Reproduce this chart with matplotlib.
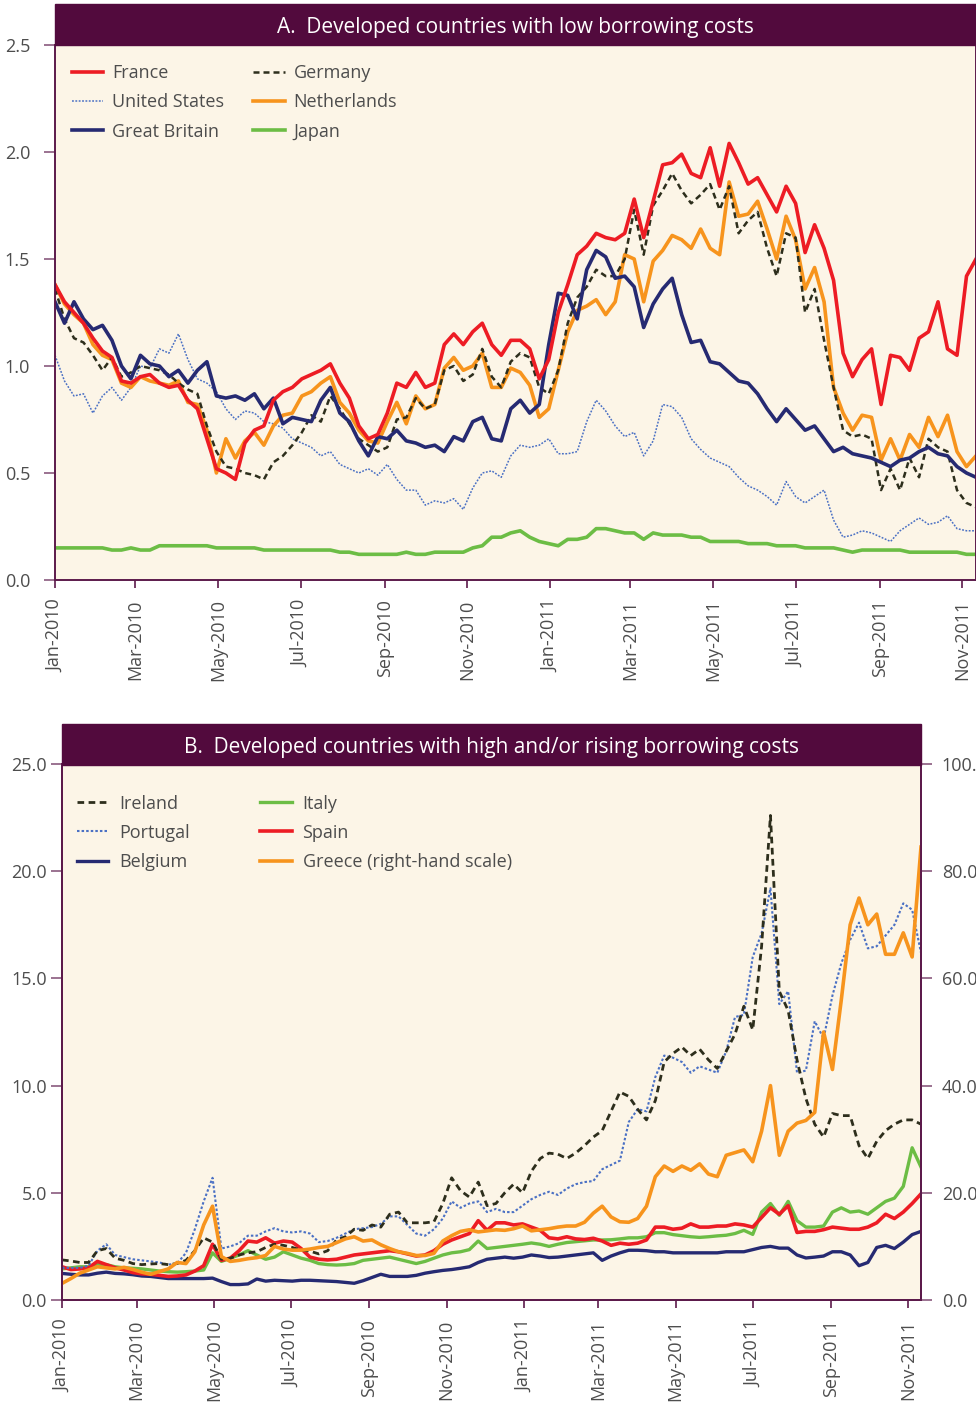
import matplotlib
matplotlib.use('Agg')
import matplotlib.pyplot as plt
import matplotlib.dates as mdates
from matplotlib.patches import Rectangle
from matplotlib.ticker import FixedLocator, FormatStrFormatter
import pandas as pd

plt.rcParams['font.family'] = ['Open Sans', 'DejaVu Sans']

#%% data: weekly readings, Jan-2010 to Nov-2011
dates = pd.date_range('2010-01-01', periods=98, freq='7D')

# Panel A
france = [1.38, 1.30, 1.25, 1.20, 1.13, 1.07, 1.04, 0.93, 0.92, 0.95,
          0.96, 0.92, 0.90, 0.91, 0.84, 0.80, 0.66, 0.52, 0.50, 0.47,
          0.64, 0.70, 0.72, 0.84, 0.88, 0.90, 0.94, 0.96, 0.98, 1.01,
          0.92, 0.85, 0.72, 0.66, 0.68, 0.78, 0.92, 0.90, 0.97, 0.90,
          0.92, 1.10, 1.15, 1.10, 1.16, 1.20, 1.10, 1.05, 1.12, 1.12,
          1.08, 0.94, 1.03, 1.25, 1.38, 1.52, 1.56, 1.62, 1.60, 1.59,
          1.62, 1.78, 1.60, 1.77, 1.94, 1.95, 1.99, 1.90, 1.88, 2.02,
          1.84, 2.04, 1.95, 1.85, 1.88, 1.80, 1.72, 1.84, 1.76, 1.53,
          1.66, 1.55, 1.40, 1.06, 0.95, 1.03, 1.08, 0.82, 1.05, 1.04,
          0.98, 1.13, 1.16, 1.30, 1.08, 1.05, 1.42, 1.50]
germany = [1.36, 1.22, 1.13, 1.11, 1.05, 0.98, 1.04, 0.95, 0.97, 1.00,
           0.99, 0.98, 0.96, 0.92, 0.89, 0.87, 0.72, 0.60, 0.53, 0.52,
           0.50, 0.49, 0.47, 0.55, 0.58, 0.63, 0.69, 0.77, 0.74, 0.86,
           0.80, 0.73, 0.66, 0.63, 0.60, 0.62, 0.75, 0.76, 0.85, 0.80,
           0.82, 0.98, 1.00, 0.93, 0.96, 1.08, 0.95, 0.90, 1.02, 1.06,
           1.04, 0.90, 0.87, 0.98, 1.20, 1.32, 1.37, 1.45, 1.42, 1.42,
           1.50, 1.73, 1.52, 1.75, 1.82, 1.90, 1.82, 1.76, 1.80, 1.85,
           1.73, 1.84, 1.62, 1.68, 1.72, 1.55, 1.42, 1.62, 1.60, 1.25,
           1.36, 1.12, 0.90, 0.70, 0.67, 0.68, 0.66, 0.42, 0.52, 0.42,
           0.57, 0.48, 0.66, 0.62, 0.60, 0.42, 0.36, 0.34]
united_states = [1.05, 0.93, 0.86, 0.87, 0.78, 0.86, 0.90, 0.84, 0.90, 1.00,
                 0.99, 1.08, 1.06, 1.15, 1.03, 0.94, 0.92, 0.88, 0.80, 0.75,
                 0.79, 0.78, 0.74, 0.73, 0.71, 0.66, 0.64, 0.62, 0.58, 0.60,
                 0.54, 0.52, 0.50, 0.52, 0.49, 0.54, 0.47, 0.42, 0.42, 0.35,
                 0.37, 0.36, 0.38, 0.33, 0.43, 0.50, 0.51, 0.48, 0.58, 0.63,
                 0.62, 0.63, 0.66, 0.59, 0.59, 0.60, 0.74, 0.84, 0.79, 0.72,
                 0.67, 0.69, 0.58, 0.65, 0.82, 0.81, 0.76, 0.66, 0.61, 0.57,
                 0.55, 0.53, 0.48, 0.44, 0.42, 0.39, 0.35, 0.46, 0.39, 0.36,
                 0.39, 0.42, 0.28, 0.20, 0.21, 0.23, 0.22, 0.20, 0.18, 0.23,
                 0.26, 0.29, 0.26, 0.27, 0.30, 0.24, 0.23, 0.23]
netherlands = [1.38, 1.29, 1.24, 1.20, 1.10, 1.05, 1.03, 0.92, 0.90, 0.95,
               0.93, 0.92, 0.91, 0.93, 0.83, 0.82, 0.70, 0.50, 0.66, 0.57,
               0.65, 0.69, 0.63, 0.72, 0.77, 0.78, 0.86, 0.88, 0.92, 0.95,
               0.83, 0.78, 0.70, 0.65, 0.64, 0.74, 0.83, 0.73, 0.86, 0.80,
               0.82, 0.99, 1.04, 0.98, 1.00, 1.06, 0.90, 0.90, 0.99, 0.97,
               0.91, 0.76, 0.80, 0.98, 1.16, 1.26, 1.28, 1.31, 1.24, 1.30,
               1.52, 1.50, 1.30, 1.49, 1.54, 1.61, 1.59, 1.55, 1.64, 1.55,
               1.52, 1.86, 1.70, 1.71, 1.77, 1.64, 1.50, 1.70, 1.59, 1.36,
               1.46, 1.30, 0.90, 0.78, 0.70, 0.77, 0.76, 0.56, 0.66, 0.56,
               0.68, 0.62, 0.76, 0.67, 0.77, 0.60, 0.53, 0.58]
great_britain = [1.30, 1.20, 1.30, 1.22, 1.17, 1.19, 1.12, 1.00, 0.94, 1.05,
                 1.01, 1.00, 0.95, 0.98, 0.92, 0.98, 1.02, 0.86, 0.85, 0.86,
                 0.84, 0.87, 0.80, 0.85, 0.73, 0.76, 0.75, 0.74, 0.84, 0.90,
                 0.78, 0.74, 0.65, 0.58, 0.67, 0.66, 0.70, 0.65, 0.64, 0.62,
                 0.63, 0.60, 0.67, 0.65, 0.74, 0.76, 0.66, 0.65, 0.80, 0.84,
                 0.78, 0.82, 1.10, 1.34, 1.33, 1.22, 1.45, 1.54, 1.51, 1.41,
                 1.42, 1.37, 1.18, 1.29, 1.36, 1.41, 1.24, 1.11, 1.12, 1.02,
                 1.01, 0.97, 0.93, 0.92, 0.87, 0.80, 0.74, 0.80, 0.75, 0.70,
                 0.72, 0.66, 0.60, 0.62, 0.59, 0.58, 0.57, 0.55, 0.53, 0.56,
                 0.57, 0.60, 0.62, 0.59, 0.58, 0.53, 0.50, 0.48]
japan = [0.15, 0.15, 0.15, 0.15, 0.15, 0.15, 0.14, 0.14, 0.15, 0.14,
         0.14, 0.16, 0.16, 0.16, 0.16, 0.16, 0.16, 0.15, 0.15, 0.15,
         0.15, 0.15, 0.14, 0.14, 0.14, 0.14, 0.14, 0.14, 0.14, 0.14,
         0.13, 0.13, 0.12, 0.12, 0.12, 0.12, 0.12, 0.13, 0.12, 0.12,
         0.13, 0.13, 0.13, 0.13, 0.15, 0.16, 0.20, 0.20, 0.22, 0.23,
         0.20, 0.18, 0.17, 0.16, 0.19, 0.19, 0.20, 0.24, 0.24, 0.23,
         0.22, 0.22, 0.19, 0.22, 0.21, 0.21, 0.21, 0.20, 0.20, 0.18,
         0.18, 0.18, 0.18, 0.17, 0.17, 0.17, 0.16, 0.16, 0.16, 0.15,
         0.15, 0.15, 0.15, 0.14, 0.13, 0.14, 0.14, 0.14, 0.14, 0.14,
         0.13, 0.13, 0.13, 0.13, 0.13, 0.13, 0.12, 0.12]

# Panel B
ireland = [1.87, 1.82, 1.75, 1.75, 2.30, 2.40, 1.95, 1.85, 1.70, 1.65,
           1.68, 1.70, 1.65, 1.70, 1.85, 2.30, 2.90, 2.70, 1.90, 1.95,
           2.10, 2.20, 2.25, 2.45, 2.60, 2.55, 2.45, 2.33, 2.28, 2.15,
           2.30, 2.80, 2.95, 3.30, 3.25, 3.50, 3.40, 4.00, 4.10, 3.60,
           3.60, 3.60, 3.65, 4.50, 5.70, 5.10, 4.80, 5.50, 4.40, 4.50,
           5.00, 5.40, 5.00, 6.00, 6.60, 6.85, 6.80, 6.60, 6.85, 7.20,
           7.60, 7.90, 8.80, 9.70, 9.50, 8.90, 8.40, 9.30, 11.10, 11.50,
           11.80, 11.40, 11.70, 11.20, 10.80, 11.60, 12.40, 13.70, 12.60, 16.50,
           22.60, 14.40, 13.50, 11.20, 9.40, 8.20, 7.60, 8.70, 8.60, 8.60,
           7.20, 6.60, 7.40, 7.90, 8.20, 8.40, 8.40, 8.20]
portugal = [1.50, 1.50, 1.50, 1.60, 2.30, 2.60, 2.10, 2.00, 1.90, 1.85,
            1.80, 1.75, 1.65, 1.70, 2.20, 3.30, 4.60, 5.70, 2.40, 2.50,
            2.65, 3.00, 3.00, 3.20, 3.35, 3.20, 3.15, 3.20, 3.10, 2.70,
            2.75, 2.90, 3.10, 3.30, 3.35, 3.40, 3.55, 3.90, 3.90, 3.50,
            3.10, 3.00, 3.30, 3.80, 4.60, 4.30, 4.50, 4.60, 4.10, 4.25,
            4.10, 4.10, 4.40, 4.70, 4.90, 5.05, 4.90, 5.20, 5.40, 5.50,
            5.55, 6.10, 6.30, 6.50, 8.30, 8.90, 8.80, 10.40, 11.40, 11.30,
            11.10, 10.60, 10.90, 10.75, 10.60, 11.60, 13.20, 13.30, 16.00, 17.10,
            19.20, 13.80, 14.40, 10.60, 10.70, 13.00, 12.20, 14.20, 15.70, 16.80,
            17.60, 16.40, 16.50, 17.00, 17.50, 18.50, 18.20, 16.20]
belgium = [1.24, 1.20, 1.17, 1.17, 1.25, 1.30, 1.24, 1.22, 1.18, 1.12,
           1.10, 1.05, 1.00, 1.00, 1.00, 1.00, 1.00, 1.02, 0.86, 0.72,
           0.72, 0.75, 0.98, 0.88, 0.92, 0.90, 0.88, 0.92, 0.92, 0.90,
           0.88, 0.86, 0.82, 0.78, 0.90, 1.05, 1.20, 1.10, 1.10, 1.10,
           1.15, 1.25, 1.32, 1.38, 1.42, 1.48, 1.55, 1.75, 1.90, 1.95,
           2.00, 1.95, 2.00, 2.10, 2.05, 1.98, 2.00, 2.05, 2.10, 2.15,
           2.20, 1.85, 2.05, 2.20, 2.32, 2.32, 2.30, 2.25, 2.25, 2.20,
           2.20, 2.20, 2.20, 2.20, 2.20, 2.25, 2.25, 2.25, 2.35, 2.45,
           2.50, 2.42, 2.42, 2.10, 1.96, 2.00, 2.05, 2.25, 2.25, 2.10,
           1.60, 1.75, 2.45, 2.55, 2.40, 2.70, 3.05, 3.20]
italy = [1.45, 1.50, 1.55, 1.55, 1.65, 1.65, 1.55, 1.50, 1.48, 1.45,
         1.40, 1.35, 1.32, 1.30, 1.32, 1.35, 1.40, 2.20, 1.80, 1.95,
         2.10, 2.30, 2.10, 1.90, 2.00, 2.25, 2.10, 1.95, 1.85, 1.70,
         1.65, 1.63, 1.65, 1.70, 1.85, 1.90, 1.95, 2.00, 1.90, 1.80,
         1.70, 1.80, 1.95, 2.10, 2.20, 2.25, 2.35, 2.75, 2.40, 2.45,
         2.50, 2.55, 2.60, 2.66, 2.60, 2.50, 2.60, 2.68, 2.72, 2.76,
         2.80, 2.80, 2.81, 2.85, 2.90, 2.90, 2.95, 3.14, 3.14, 3.05,
         3.00, 2.95, 2.92, 2.95, 2.99, 3.02, 3.10, 3.25, 3.06, 4.10,
         4.50, 3.95, 4.60, 3.70, 3.40, 3.40, 3.45, 4.10, 4.30, 4.10,
         4.15, 4.00, 4.30, 4.60, 4.75, 5.30, 7.10, 6.20]
spain = [1.55, 1.42, 1.45, 1.50, 1.80, 1.65, 1.50, 1.40, 1.28, 1.22,
         1.20, 1.15, 1.10, 1.12, 1.17, 1.35, 1.60, 2.60, 1.85, 1.95,
         2.30, 2.75, 2.70, 2.90, 2.65, 2.75, 2.70, 2.40, 2.00, 1.90,
         1.87, 1.90, 2.00, 2.10, 2.15, 2.20, 2.25, 2.30, 2.25, 2.15,
         2.05, 2.10, 2.30, 2.60, 2.80, 2.95, 3.10, 3.70, 3.25, 3.60,
         3.60, 3.50, 3.55, 3.40, 3.25, 2.90, 2.85, 2.95, 2.85, 2.82,
         2.88, 2.75, 2.55, 2.65, 2.60, 2.65, 2.80, 3.40, 3.40, 3.30,
         3.35, 3.55, 3.40, 3.40, 3.45, 3.45, 3.55, 3.50, 3.40, 3.85,
         4.30, 4.00, 4.40, 3.15, 3.20, 3.20, 3.28, 3.40, 3.35, 3.30,
         3.30, 3.40, 3.60, 4.00, 3.80, 4.10, 4.50, 4.95]
greece = [3.1, 4.0, 5.0, 5.6, 6.2, 6.0, 5.8, 6.1, 5.7, 5.2,
          4.8, 5.3, 5.8, 7.0, 6.8, 9.0, 14.0, 17.5, 8.1, 7.2,
          7.4, 7.7, 7.9, 8.3, 10.0, 9.5, 9.3, 9.3, 9.5, 9.8,
          10.0, 10.7, 11.4, 11.8, 11.0, 11.2, 10.3, 9.6, 9.0, 8.7,
          8.3, 8.3, 8.7, 11.0, 12.0, 12.8, 13.1, 12.7, 12.9, 13.1,
          13.0, 13.3, 13.8, 12.9, 13.1, 13.3, 13.6, 13.8, 13.8, 14.5,
          16.2, 17.5, 15.5, 14.6, 14.5, 15.2, 17.5, 23.0, 25.0, 24.0,
          25.0, 24.2, 25.4, 23.5, 23.0, 27.0, 27.5, 28.0, 25.8, 31.5,
          40.0, 27.0, 31.5, 33.0, 33.5, 35.0, 50.0, 43.0, 56.0, 70.0,
          75.0, 70.0, 72.0, 64.5, 64.5, 68.5, 64.0, 84.5]

#%% colours
bg = '#fcf5e7'
bar_col = '#520a3d'
spine_col = '#5c1a4b'
tick_col = '#8a5a7e'
label_col = '#4d4d4d'
red = '#ed1c24'
orange = '#f7941d'
navy = '#262a72'
green = '#6cbd45'
olive = '#2d2e1c'
blue = '#4a70c4'

W, H = 976, 1403
fig = plt.figure(figsize=(W / 100, H / 100), dpi=100)
fig.patch.set_facecolor('white')

axA = fig.add_axes([55 / W, 1 - 580 / H, 921 / W, 535 / H])
axB = fig.add_axes([62 / W, 1 - 1300 / H, 859 / W, 536 / H])

x0 = dates[0]
x1 = dates[-1]


def style(ax, ypad):
    ax.set_facecolor(bg)
    ax.spines['top'].set_visible(False)
    for s in ['left', 'bottom', 'right']:
        ax.spines[s].set_color(spine_col)
        ax.spines[s].set_linewidth(1.4)
    ax.set_xlim(x0, x1)
    ax.xaxis.set_major_locator(mdates.MonthLocator(bymonth=[1, 3, 5, 7, 9, 11]))
    ax.xaxis.set_major_formatter(mdates.DateFormatter('%b-%Y'))
    ax.tick_params(axis='x', length=6, width=1.2, color=spine_col, pad=8,
                   labelsize=13, labelcolor=label_col, labelrotation=90)
    ax.tick_params(axis='y', length=8, width=1.2, color=tick_col, pad=ypad,
                   labelsize=13, labelcolor=label_col)
    ax.yaxis.set_major_formatter(FormatStrFormatter('%.1f'))


def title_bar(left, top, width, text):
    fig.add_artist(Rectangle((left / W, 1 - (top + 41) / H), width / W, 41 / H,
                             transform=fig.transFigure, color=bar_col, zorder=5))
    fig.text((left + width / 2) / W, 1 - (top + 23) / H, text, color='white',
             fontsize=15, ha='center', va='center', zorder=6)


#%% Panel A
style(axA, 10)
axA.set_ylim(0, 2.5)
axA.yaxis.set_major_locator(FixedLocator([0, 0.5, 1.0, 1.5, 2.0, 2.5]))

axA.plot(dates, japan, color=green, lw=2.6, label='Japan')
axA.plot(dates, united_states, color=blue, lw=1.1, ls=(0, (1.2, 1.0)), label='United States')
axA.plot(dates, netherlands, color=orange, lw=2.6, label='Netherlands')
axA.plot(dates, germany, color=olive, lw=1.8, ls=(0, (2.4, 1.6)), label='Germany')
axA.plot(dates, great_britain, color=navy, lw=2.6, label='Great Britain')
axA.plot(dates, france, color=red, lw=2.6, label='France')

h, l = axA.get_legend_handles_labels()
order = ['France', 'United States', 'Great Britain', 'Germany', 'Netherlands', 'Japan']
hs = [h[l.index(n)] for n in order]
axA.legend(hs, order, ncol=2, loc='upper left', bbox_to_anchor=(0.018, 0.964),
           frameon=False, fontsize=13, handlelength=1.75, handletextpad=0.5,
           columnspacing=1.6, labelspacing=0.62, borderpad=0, borderaxespad=0,
           labelcolor=label_col)

title_bar(55, 4, 921, 'A.  Developed countries with low borrowing costs')

#%% Panel B
style(axB, 3)
axB.set_ylim(0, 25)
axB.yaxis.set_major_locator(FixedLocator([0, 5, 10, 15, 20, 25]))

axR = axB.twinx()
axR.set_ylim(0, 100)
axR.yaxis.set_major_locator(FixedLocator([0, 20, 40, 60, 80, 100]))
axR.yaxis.set_major_formatter(FormatStrFormatter('%.1f'))
axR.tick_params(axis='y', length=8, width=1.2, color=tick_col, pad=7,
                labelsize=13, labelcolor=label_col)
axR.spines['top'].set_visible(False)
for s in ['left', 'bottom', 'right']:
    axR.spines[s].set_color(spine_col)
    axR.spines[s].set_linewidth(1.4)

axB.plot(dates, belgium, color=navy, lw=2.4, label='Belgium')
axB.plot(dates, italy, color=green, lw=2.4, label='Italy')
axB.plot(dates, spain, color=red, lw=2.6, label='Spain')
axB.plot(dates, portugal, color=blue, lw=1.5, ls=(0, (1.2, 1.0)), label='Portugal')
axB.plot(dates, ireland, color=olive, lw=2.0, ls=(0, (2.4, 1.6)), label='Ireland')
axR.plot(dates, greece, color=orange, lw=2.6, label='Greece (right-hand scale)')

h1, l1 = axB.get_legend_handles_labels()
h2, l2 = axR.get_legend_handles_labels()
h, l = h1 + h2, l1 + l2
order = ['Ireland', 'Portugal', 'Belgium', 'Italy', 'Spain', 'Greece (right-hand scale)']
hs = [h[l.index(n)] for n in order]
axR.legend(hs, order, ncol=2, loc='upper left', bbox_to_anchor=(0.017, 0.943),
           frameon=False, fontsize=13, handlelength=1.75, handletextpad=0.6,
           columnspacing=3.9, labelspacing=0.62, borderpad=0, borderaxespad=0,
           labelcolor=label_col)

title_bar(62, 724, 859, 'B.  Developed countries with high and/or rising borrowing costs')

fig.savefig('out.png', dpi=100, facecolor='white')
